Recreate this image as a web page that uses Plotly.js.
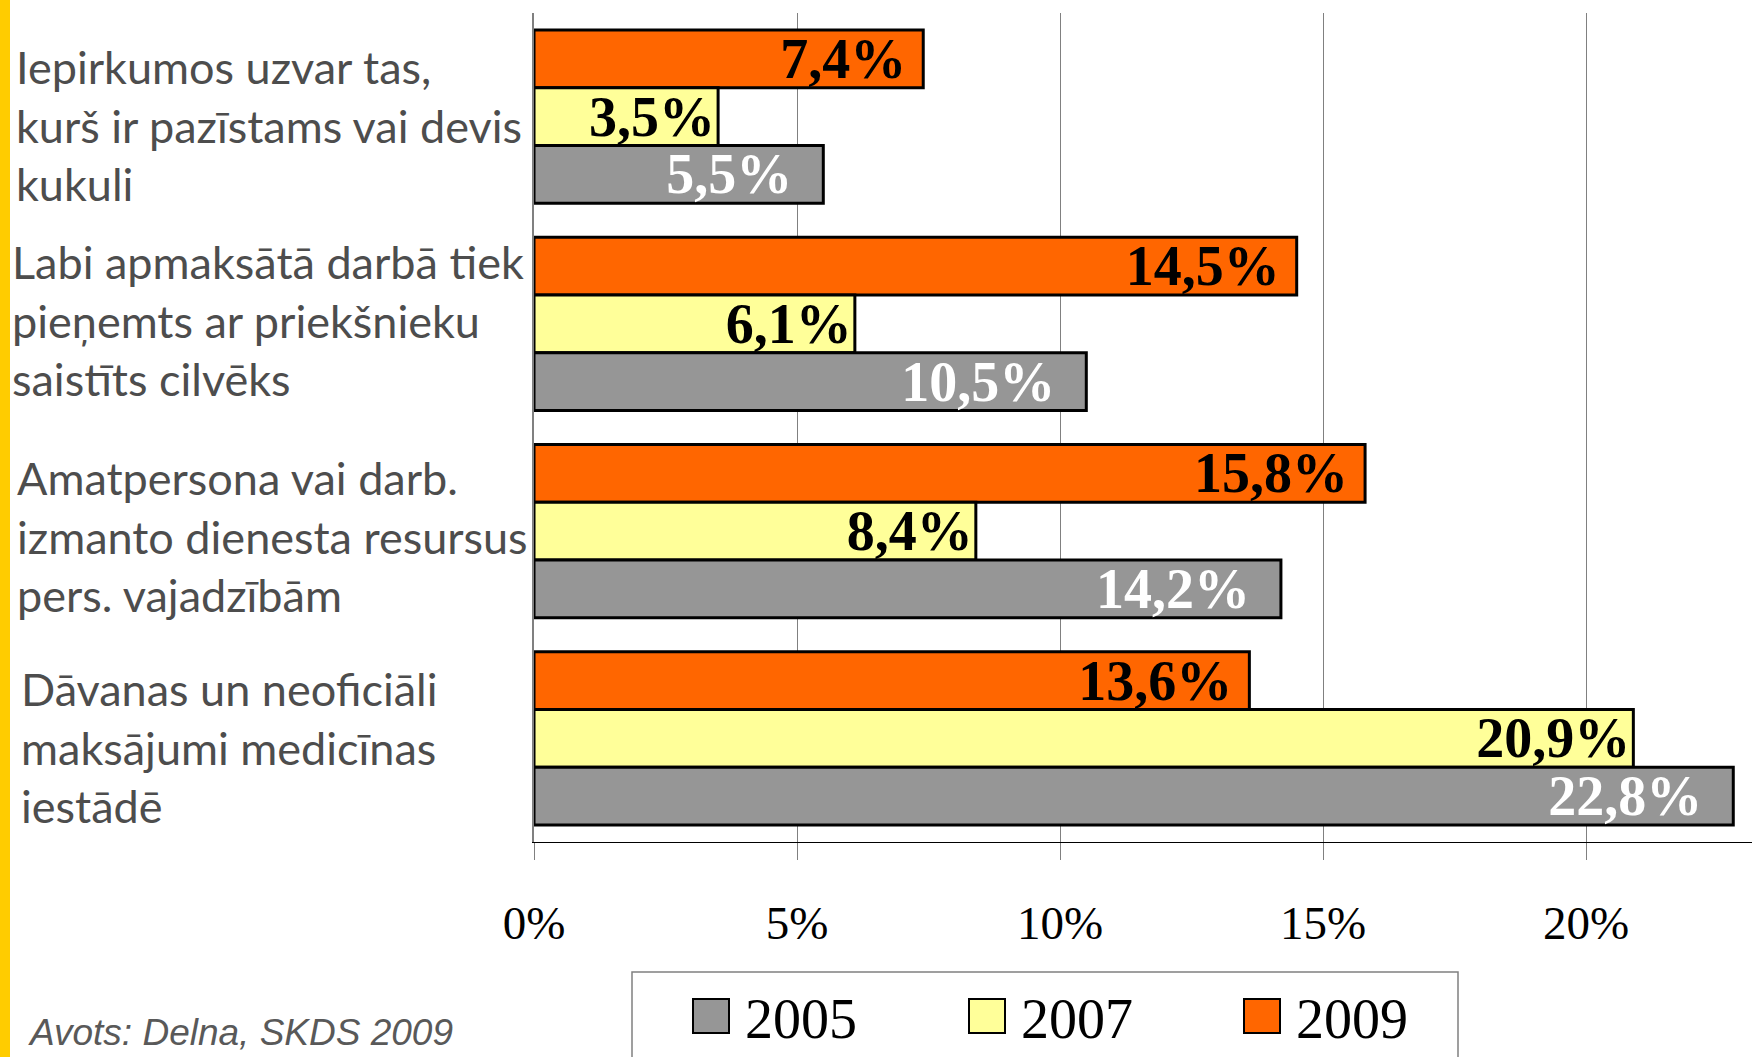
<!DOCTYPE html>
<html>
<head>
<meta charset="utf-8">
<script src="https://cdn.plot.ly/plotly-3.0.1.min.js"></script>
<style>html,body{margin:0;padding:0;background:#fff;}#chart{width:1752px;height:1057px;}</style>
</head>
<body>
<div id="chart"></div>
<script>
// ---- data ----
const categories = [
  'Iepirkumos uzvar tas,<br>kurš ir pazīstams vai devis<br>kukuli',
  'Labi apmaksātā darbā tiek<br>pieņemts ar priekšnieku<br>saistīts cilvēks',
  'Amatpersona vai darb.<br>izmanto dienesta resursus<br>pers. vajadzībām',
  'Dāvanas un neoficiāli<br>maksājumi medicīnas<br>iestādē'
];
const years = ['2005', '2007', '2009'];
const values2005 = [5.5, 10.5, 14.2, 22.8];
const values2007 = [3.5, 6.1, 8.4, 20.9];
const values2009 = [7.4, 14.5, 15.8, 13.6];
const xTicks = [0, 5, 10, 15, 20];
const sourceText = 'Avots: Delna, SKDS 2009';

// ---- styles ----
const colors = {'2005': '#969696', '2007': '#FFFF99', '2009': '#FF6600'};
const labelColors = {'2005': '#FFFFFF', '2007': '#000000', '2009': '#000000'};
const labelPad = {'2005': '\u00a0\u00a0', '2007': '', '2009': '\u00a0'};
const seriesValues = {'2005': values2005, '2007': values2007, '2009': values2009};

const W = 1752, H = 1057;
const M = {l: 534, r: 0, t: 13, b: 215};
const plotW = W - M.l - M.r, plotH = H - M.t - M.b;
const px = p => (p - M.l) / plotW;            // pixel x -> paper
const py = p => (H - M.b - p) / plotH;        // pixel y -> paper

const traceOrder = ['2009', '2007', '2005'];
const traces = traceOrder.map(yr => ({
  type: 'bar',
  orientation: 'h',
  name: yr,
  y: categories,
  x: seriesValues[yr],
  marker: {color: colors[yr], line: {color: '#000000', width: 3}},
  texttemplate: '%{x:.1f}%' + labelPad[yr],
  textposition: 'inside',
  insidetextanchor: 'end',
  constraintext: 'none',
  textangle: 0,
  textfont: {family: 'Liberation Serif, Times New Roman, serif', size: 56, color: labelColors[yr], weight: 'bold'},
  hoverinfo: 'skip',
  showlegend: false
}));

const shapes = [];
const annotations = [];

// yellow strip on the left
shapes.push({type: 'rect', xref: 'paper', yref: 'paper', x0: px(0), x1: px(10), y0: py(H + 5), y1: py(-5),
  fillcolor: '#FFCC00', line: {width: 0}, layer: 'above'});

// category labels (left aligned text blocks)
const labelX = [14, 10, 15, 19];
const labelShift = [-9, 3, -5, -9];
categories.forEach((c, i) => {
  annotations.push({xref: 'paper', yref: 'y', x: px(labelX[i]), y: c, yshift: labelShift[i], text: c, showarrow: false,
    xanchor: 'left', yanchor: 'middle', align: 'left',
    font: {family: 'Lato, Open Sans, sans-serif', size: 45, color: '#4d4d4d'}});
});

// legend built from the series
shapes.push({type: 'rect', xref: 'paper', yref: 'paper', x0: px(632), x1: px(1458), y0: py(1080), y1: py(972),
  fillcolor: 'rgba(0,0,0,0)', line: {color: '#808080', width: 1.5}});
const legendX = [693, 969, 1244];
years.forEach((yr, i) => {
  shapes.push({type: 'rect', xref: 'paper', yref: 'paper', x0: px(legendX[i]), x1: px(legendX[i] + 36),
    y0: py(1033), y1: py(999), fillcolor: colors[yr], line: {color: '#000000', width: 2}});
  annotations.push({xref: 'paper', yref: 'paper', x: px(legendX[i] + 50), y: py(1019), text: yr, showarrow: false,
    xanchor: 'left', yanchor: 'middle', font: {family: 'Liberation Serif, Times New Roman, serif', size: 56, color: '#000000'}});
});

// source
annotations.push({xref: 'paper', yref: 'paper', x: px(26), y: py(1032), text: sourceText, showarrow: false,
  xanchor: 'left', yanchor: 'middle',
  font: {family: 'Liberation Sans, Arial, sans-serif', size: 37, color: '#595959', style: 'italic'}});

const layout = {
  width: W, height: H,
  margin: M,
  paper_bgcolor: '#ffffff', plot_bgcolor: '#ffffff',
  separators: ',.',
  barmode: 'group',
  bargap: 0.165,
  bargroupgap: 0,
  showlegend: false,
  xaxis: {
    range: [0, plotW / 52.6],
    tickvals: xTicks,
    ticktext: xTicks.map(v => v + '%'),
    showgrid: true, gridcolor: '#808080', gridwidth: 1,
    zeroline: false,
    showline: true, linecolor: '#000000', linewidth: 1,
    ticks: 'outside', ticklen: 17, tickcolor: '#808080', tickwidth: 1,
    ticklabelstandoff: 23,
    tickfont: {family: 'Liberation Serif, Times New Roman, serif', size: 47, color: '#000000'},
    fixedrange: true
  },
  yaxis: {
    type: 'category',
    autorange: 'reversed',
    showticklabels: false,
    showgrid: false, zeroline: false,
    showline: true, linecolor: '#808080', linewidth: 2,
    ticks: '',
    fixedrange: true
  },
  shapes: shapes,
  annotations: annotations
};

Plotly.newPlot('chart', traces, layout, {displayModeBar: false, staticPlot: true});
</script>
</body>
</html>
